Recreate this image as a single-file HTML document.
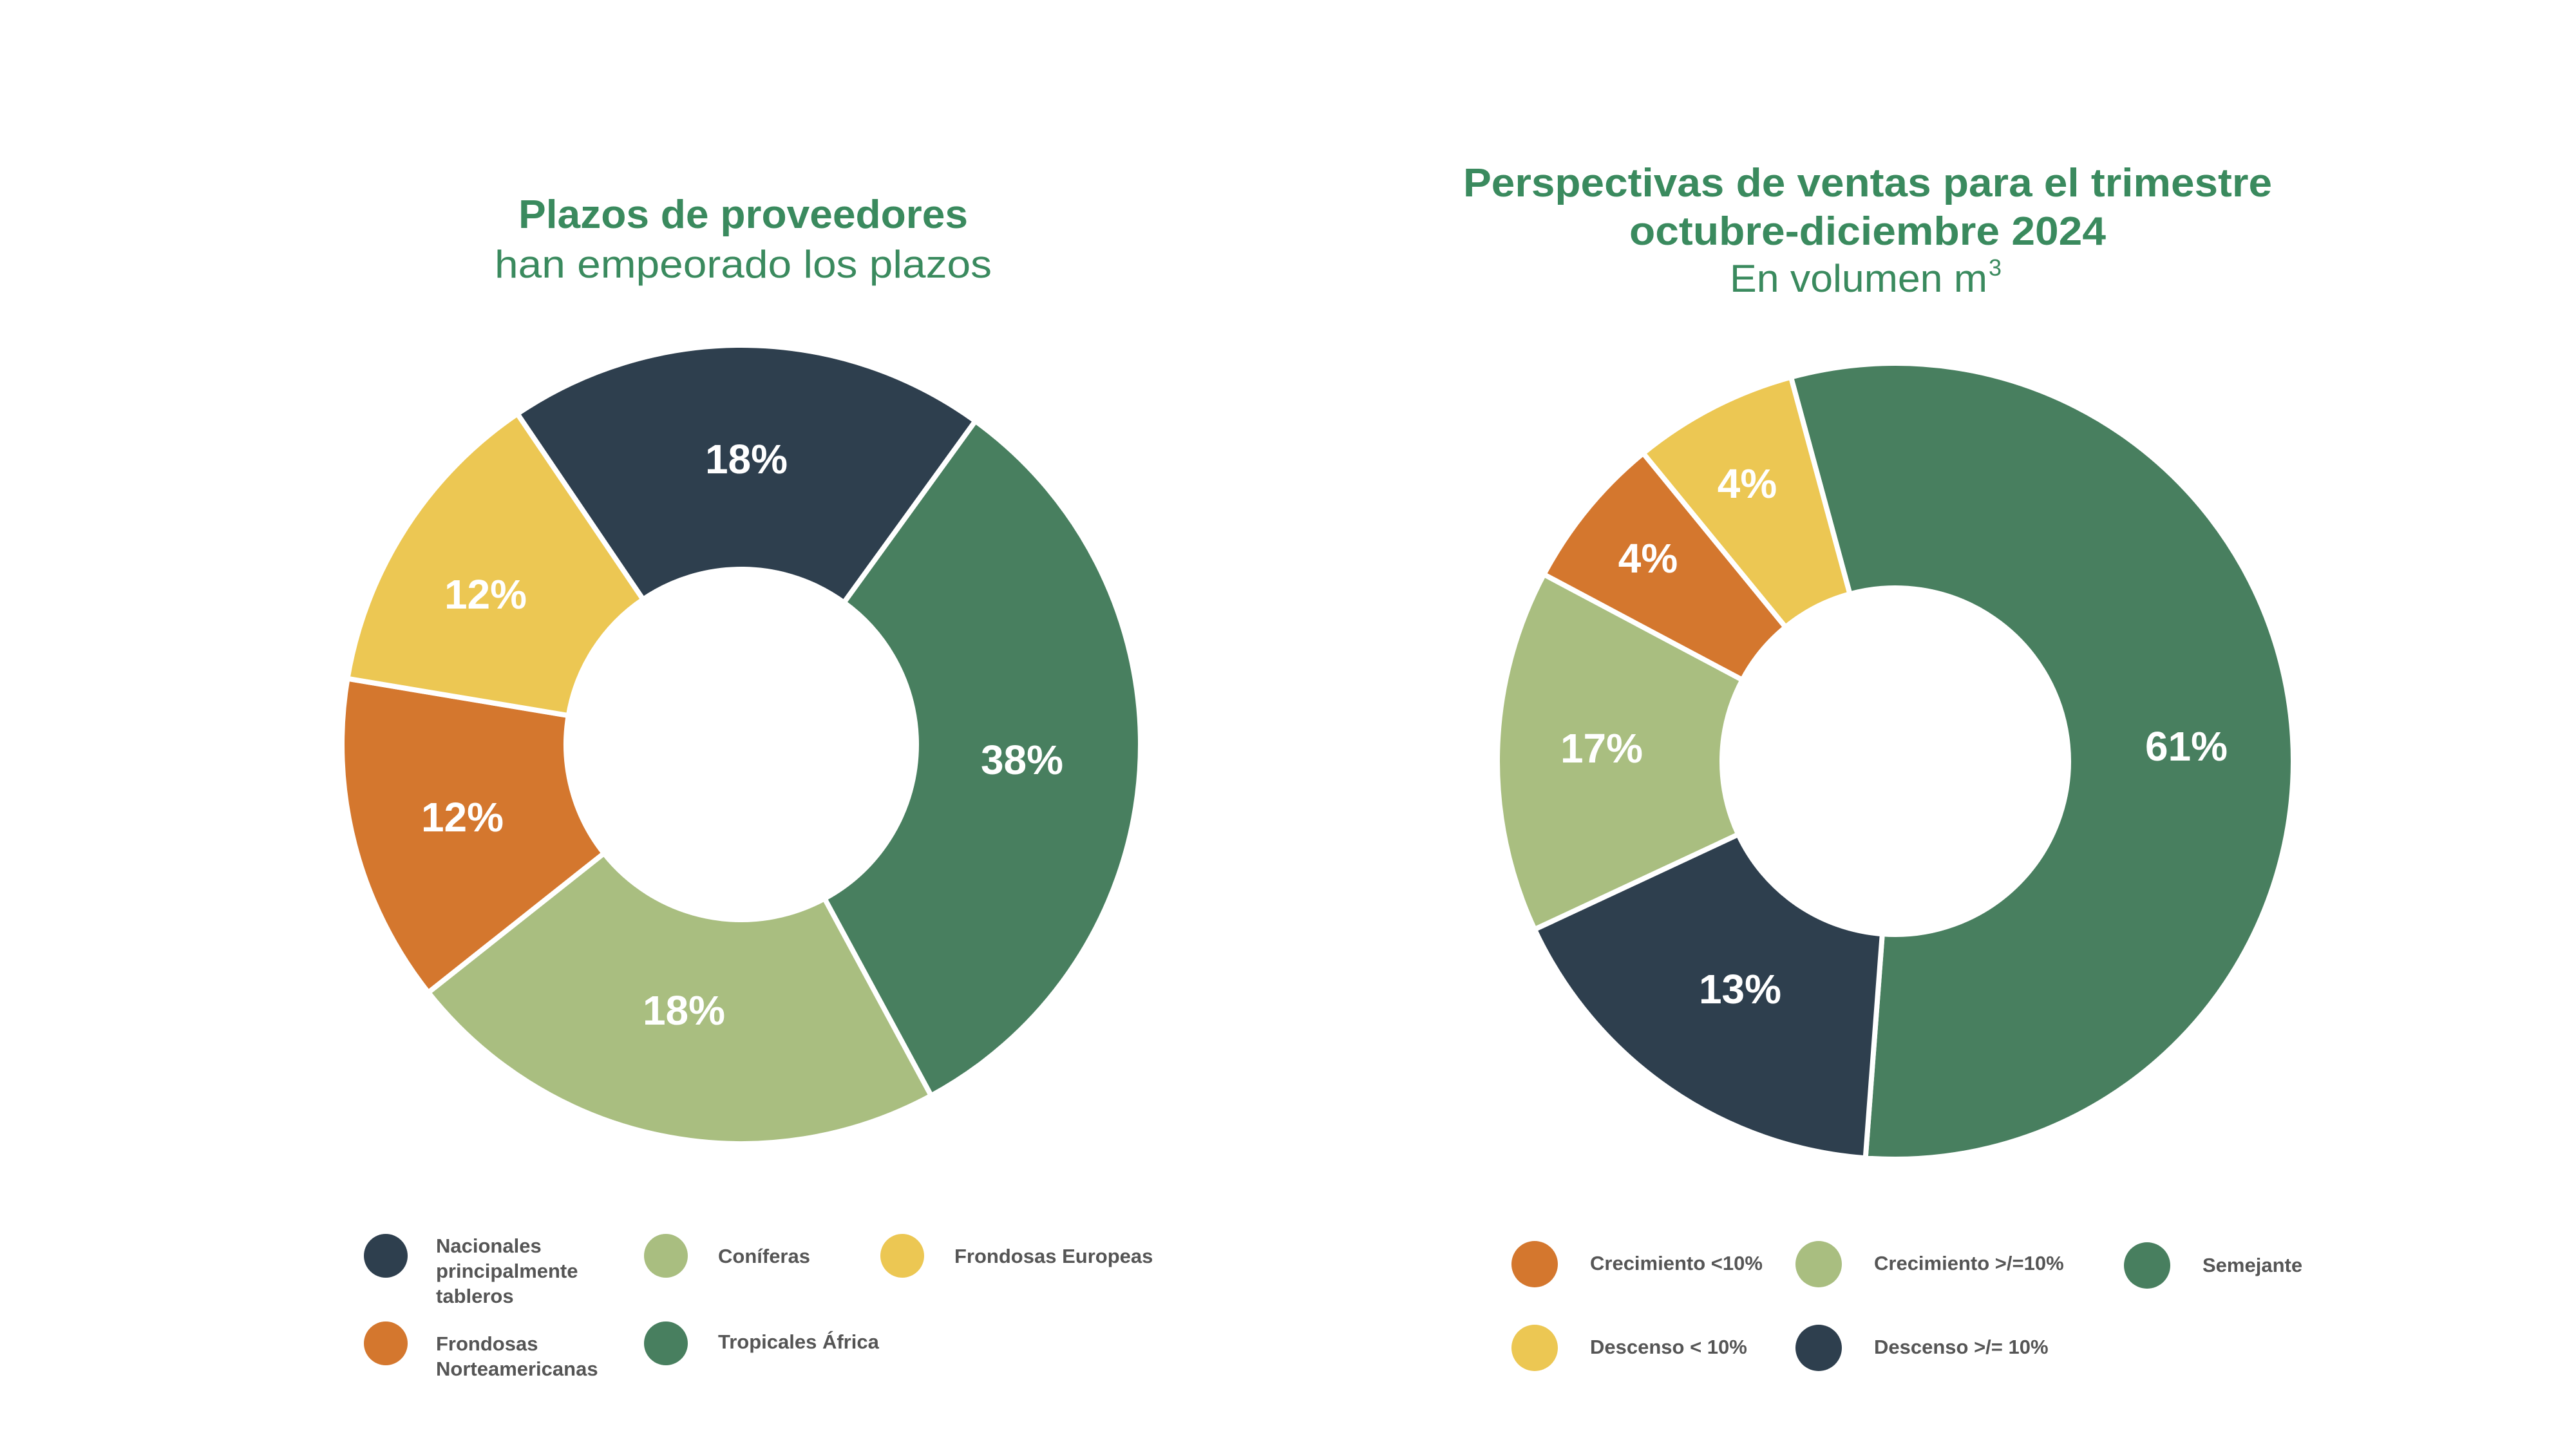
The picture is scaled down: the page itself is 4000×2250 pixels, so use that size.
<!DOCTYPE html>
<html><head><meta charset="utf-8"><style>
html,body{margin:0;padding:0;background:#fff;}
svg{display:block;}
text{font-family:"Liberation Sans",sans-serif;}
</style></head><body>
<svg id="s" width="4000" height="2250" viewBox="0 0 4000 2250" xmlns="http://www.w3.org/2000/svg">
<rect width="4000" height="2250" fill="#fff"/>
<g id="pies"></g>
<g fill="#3a8a5e" text-anchor="middle">
<text x="1154" y="354" font-size="62" font-weight="bold" textLength="698" lengthAdjust="spacingAndGlyphs">Plazos de proveedores</text>
<text x="1154" y="431" font-size="60" textLength="772" lengthAdjust="spacingAndGlyphs">han empeorado los plazos</text>
<text x="2900" y="305" font-size="62" font-weight="bold" textLength="1256" lengthAdjust="spacingAndGlyphs">Perspectivas de ventas para el trimestre</text>
<text x="2900" y="380" font-size="62" font-weight="bold" textLength="740" lengthAdjust="spacingAndGlyphs">octubre-diciembre 2024</text>
<text x="2886" y="453" font-size="60" textLength="400" lengthAdjust="spacingAndGlyphs">En volumen m</text>
<text x="3088" y="428" font-size="36" text-anchor="start">3</text>
</g>
<g fill="#fff" font-weight="bold" font-size="64" text-anchor="middle">
<g transform="translate(-5,-5)">
<text x="1164" y="740">18%</text>
<text x="1592" y="1207">38%</text>
<text x="1067" y="1596">18%</text>
<text x="723" y="1296">12%</text>
<text x="759" y="950">12%</text>
</g>
<g transform="translate(-13,-5)">
<text x="3408" y="1186">61%</text>
<text x="2726" y="778">4%</text>
<text x="2572" y="894">4%</text>
<text x="2500" y="1189">17%</text>
<text x="2715" y="1563">13%</text>
</g>
</g>
<g transform="translate(-4,-4)">
<circle cx="603" cy="1954" r="34" fill="#2e3f4e"/>
<circle cx="1038" cy="1954" r="34" fill="#a9be80"/>
<circle cx="1405" cy="1954" r="34" fill="#ecc753"/>
<circle cx="603" cy="2090" r="34" fill="#d4772e"/>
<circle cx="1038" cy="2090" r="34" fill="#487f5f"/>
<circle cx="2387" cy="1967" r="36" fill="#d4772e"/>
<circle cx="2828" cy="1967" r="36" fill="#a9be80"/>
<circle cx="3338" cy="1969" r="36" fill="#487f5f"/>
<circle cx="2387" cy="2097" r="36" fill="#ecc753"/>
<circle cx="2828" cy="2097" r="36" fill="#2e3f4e"/>
</g>
<g fill="#555" font-weight="bold" font-size="31" transform="translate(-3,-6)">
<text x="680" y="1951">Nacionales</text>
<text x="680" y="1990">principalmente</text>
<text x="680" y="2029">tableros</text>
<text x="1118" y="1967">Coníferas</text>
<text x="1485" y="1967">Frondosas Europeas</text>
<text x="680" y="2103">Frondosas</text>
<text x="680" y="2142">Norteamericanas</text>
<text x="1118" y="2100">Tropicales África</text>
<text x="2472" y="1978">Crecimiento &lt;10%</text>
<text x="2913" y="1978">Crecimiento  &gt;/=10%</text>
<text x="3423" y="1981">Semejante</text>
<text x="2472" y="2108">Descenso &lt; 10%</text>
<text x="2913" y="2108">Descenso &gt;/= 10%</text>
</g>
</svg>
<script>
(function(){
var g=document.getElementById('pies');
function pt(cx,cy,r,a){var t=a*Math.PI/180;return [cx+r*Math.sin(t),cy-r*Math.cos(t)];}
function donut(cx,cy,ro,ri,segs){
 segs.forEach(function(s){
  var a0=s[0],a1=s[1]; if(a1<a0)a1+=360;
  var large=(a1-a0)>180?1:0;
  var p0=pt(cx,cy,ro,a0),p1=pt(cx,cy,ro,a1),q1=pt(cx,cy,ri,a1),q0=pt(cx,cy,ri,a0);
  var d='M'+p0+' A'+ro+','+ro+' 0 '+large+' 1 '+p1+' L'+q1+' A'+ri+','+ri+' 0 '+large+' 0 '+q0+' Z';
  var p=document.createElementNS('http://www.w3.org/2000/svg','path');
  p.setAttribute('d',d);p.setAttribute('fill',s[2]);p.setAttribute('stroke','#fff');p.setAttribute('stroke-width','8');p.setAttribute('stroke-linejoin','round');
  g.appendChild(p);
 });
}
donut(1151,1156,620,272,[[325.9,35.9,'#2e3f4e'],[35.9,151.6,'#487f5f'],[151.6,231.6,'#a9be80'],[231.6,279.5,'#d4772e'],[279.5,325.9,'#ecc753']]);
donut(2943,1182,618,269,[[344.8,184.3,'#487f5f'],[184.3,245,'#2e3f4e'],[245,298,'#a9be80'],[298,320.7,'#d4772e'],[320.7,344.8,'#ecc753']]);
})();
</script>
</body></html>
